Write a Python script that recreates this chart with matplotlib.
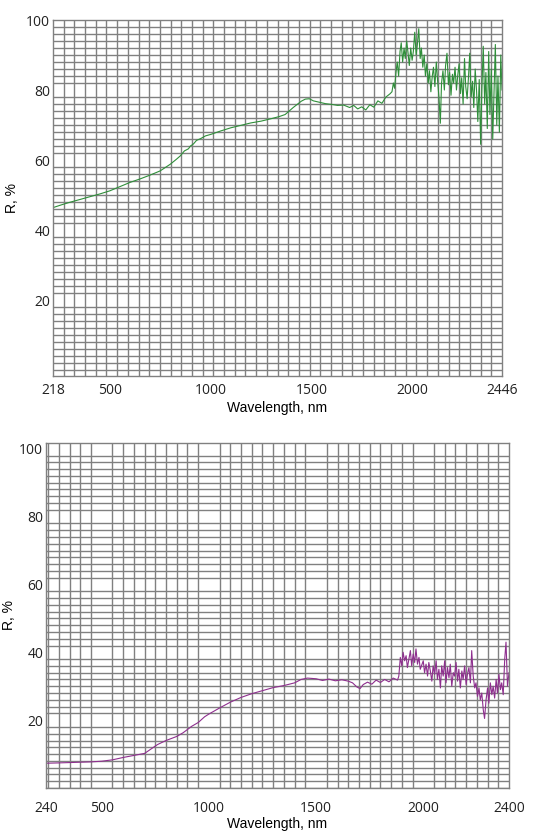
import numpy as np
import matplotlib
matplotlib.use("Agg")
import matplotlib.pyplot as plt

# ---- top panel (green) : reflectance spectrum 218-2446 nm ----
green_wl_smooth = [218, 260, 300, 350, 400, 450, 500, 550, 600, 650, 700, 750,
                   800, 830, 850, 870, 890, 900, 915, 930, 950, 975, 1000, 1050,
                   1100, 1150, 1200, 1250, 1300, 1340, 1370, 1390, 1410, 1430,
                   1450, 1470, 1490, 1510, 1540, 1570, 1600, 1630, 1660, 1690,
                   1710, 1730, 1750, 1770, 1790, 1810, 1830, 1850, 1870, 1890]
green_r_smooth = [46.4, 47.2, 47.9, 48.7, 49.5, 50.3, 51.2, 52.4, 53.6, 54.6, 55.7, 56.9,
                  58.8, 60.2, 61.2, 62.6, 63.2, 64.0, 64.6, 65.6, 66.1, 66.9, 67.3, 68.3,
                  69.2, 69.9, 70.6, 71.1, 71.8, 72.4, 73.0, 74.0, 75.0, 75.9,
                  76.8, 77.4, 77.5, 76.9, 76.5, 76.1, 75.9, 75.6, 75.7, 75.0,
                  75.6, 74.6, 75.2, 74.3, 75.8, 75.1, 76.9, 76.2, 78.0, 78.9]
green_wl_noisy = [1900, 1907, 1913, 1920, 1926, 1933, 1940, 1946, 1953, 1960, 1966, 1973,
                  1980, 1986, 1993, 2000, 2006, 2013, 2020, 2026, 2033, 2040, 2046, 2053,
                  2060, 2066, 2073, 2080, 2086, 2093, 2100, 2106, 2113, 2120, 2126, 2133,
                  2140, 2146, 2153, 2160, 2166, 2173, 2180, 2186, 2193, 2200, 2206, 2213,
                  2220, 2226, 2233, 2240, 2246, 2253, 2260, 2266, 2273, 2280, 2286, 2293,
                  2300, 2306, 2313, 2320, 2326, 2333, 2340, 2346, 2353, 2360, 2366, 2373,
                  2380, 2386, 2393, 2400, 2406, 2413, 2420, 2426, 2433, 2440, 2446]
green_r_noisy = [79.5, 82.0, 80.5, 85.0, 88.0, 84.0, 91.0, 93.5, 88.0, 92.0, 89.0, 94.0,
                 90.5, 87.0, 92.0, 88.5, 91.0, 96.5, 90.0, 93.0, 97.5, 89.0, 92.0, 86.5,
                 90.0, 84.0, 87.5, 82.0, 85.5, 79.5, 84.0, 86.5, 81.0, 88.0, 83.0, 78.0,
                 70.5, 82.0, 85.5, 80.0, 87.0, 90.5, 81.5, 85.0, 78.5, 84.5, 82.0, 86.5,
                 80.0, 84.0, 87.5, 79.0, 83.5, 76.0, 89.0, 81.0, 77.5, 84.0, 90.5, 78.0,
                 82.5, 75.0, 86.0, 79.5, 71.0, 83.0, 64.5, 80.0, 92.5, 76.0, 85.0, 69.0,
                 91.0, 73.0, 86.0, 66.0, 79.0, 93.0, 70.0, 84.0, 68.0, 90.0, 80.0]

# ---- bottom panel (purple) : reflectance spectrum 240-2400 nm ----
purple_wl_smooth = [240, 300, 350, 400, 450, 500, 550, 600, 650, 700, 730, 760,
                    800, 850, 880, 920, 950, 980, 1000, 1050, 1100, 1150, 1200, 1250,
                    1300, 1350, 1400, 1430, 1460, 1500, 1530, 1560, 1590, 1620, 1650,
                    1670, 1690, 1705, 1720, 1740, 1760, 1780, 1800, 1820, 1840, 1860, 1880]
purple_r_smooth = [7.3, 7.4, 7.5, 7.6, 7.7, 7.9, 8.3, 9.0, 9.6, 10.2, 11.5, 12.8,
                   14.0, 15.2, 16.3, 18.2, 19.3, 21.0, 21.8, 23.6, 25.3, 26.7, 27.8, 28.7,
                   29.6, 30.2, 31.0, 32.0, 32.4, 32.2, 31.7, 32.1, 31.6, 31.9, 31.5,
                   31.0, 29.8, 29.3, 30.5, 31.2, 30.6, 31.8, 31.1, 32.0, 31.3, 32.4, 31.8]
purple_wl_noisy = [1886, 1893, 1900, 1906, 1913, 1920, 1926, 1933, 1940, 1946, 1953, 1960,
                   1966, 1973, 1980, 1986, 2000, 2006, 2013, 2020, 2026, 2033, 2040, 2046,
                   2053, 2060, 2066, 2073, 2080, 2086, 2093, 2100, 2106, 2113, 2120, 2126,
                   2133, 2140, 2146, 2153, 2160, 2166, 2173, 2180, 2186, 2193, 2200, 2206,
                   2213, 2220, 2226, 2233, 2240, 2246, 2253, 2260, 2266, 2273, 2280, 2286,
                   2293, 2300, 2306, 2313, 2320, 2326, 2333, 2340, 2346, 2353, 2360, 2366,
                   2373, 2380, 2386, 2393, 2400]
purple_r_noisy = [33.0, 38.5, 36.0, 40.0, 37.5, 39.0, 35.5, 38.0, 40.5, 36.0, 39.5, 37.0,
                  41.0, 36.5, 38.5, 35.0, 37.5, 34.0, 36.5, 33.0, 37.0, 34.5, 31.5, 36.0,
                  33.5, 37.5, 32.0, 35.0, 29.5, 36.0, 33.0, 37.5, 31.0, 35.5, 32.5, 36.5,
                  30.0, 34.0, 33.0, 37.0, 31.5, 35.0, 29.5, 34.5, 32.0, 36.0, 30.5, 33.5,
                  35.5, 31.0, 40.5, 33.0, 29.5, 31.0, 27.0, 29.5, 26.0, 28.0, 23.0, 20.5,
                  26.0, 29.5, 25.0, 31.0, 27.5, 30.0, 26.5, 32.0, 28.0, 33.5, 29.0, 31.0,
                  27.5, 38.0, 43.0, 30.0, 34.0]

top_xticks = [218, 500, 1000, 1500, 2000, 2446]
bot_xticks = [240, 500, 1000, 1500, 2000, 2400]
yticks = [20, 40, 60, 80, 100]

grid_col = "#808080"
tick_font = "Open Sans"
label_font = "Liberation Sans"

fig = plt.figure(figsize=(5.42, 8.31), dpi=100)
ax1 = fig.add_axes([53/542, 1 - 376/831, (502 - 53)/542, (376 - 20)/831])
ax2 = fig.add_axes([46/542, 1 - 788/831, (509 - 46)/542, (788 - 443)/831])


def style_panel(ax, xlim, ylim, xticks, xgrid, xpad, ylab_x):
    ax.set_xlim(*xlim)
    ax.set_ylim(*ylim)
    ax.set_xticks(xticks)
    ax.set_yticks(yticks)
    ax.set_xticks(xgrid, minor=True)
    ax.set_yticks(np.arange(0, 101, 2), minor=True)
    # only the dense grid, so that no line is doubled at the labelled ticks
    ax.grid(which="minor", color=grid_col, linewidth=1.0)
    ax.set_axisbelow(True)
    ax.tick_params(which="both", length=0)
    ax.tick_params(axis="x", pad=xpad)
    ax.tick_params(axis="y", pad=2)
    for lab in ax.get_xticklabels() + ax.get_yticklabels():
        lab.set_fontfamily(tick_font)
        lab.set_fontsize(10)
        lab.set_color("#222222")
    for sp in ax.spines.values():
        sp.set_color(grid_col)
        sp.set_linewidth(1.0)
    ax.set_ylabel("R, %", fontfamily=label_font, fontsize=10)
    ax.yaxis.set_label_coords(ylab_x, 0.5)


# top
ax1.plot(green_wl_smooth + green_wl_noisy, green_r_smooth + green_r_noisy,
         color="#2f8f3a", linewidth=0.8)
style_panel(ax1, (218, 2446), (-1.7, 100), top_xticks,
            np.linspace(218, 2446, 43), 5, -0.075)
ax1.set_xlabel("Wavelength, nm", fontfamily=label_font, fontsize=10, labelpad=2)

# bottom
ax2.plot(purple_wl_smooth + purple_wl_noisy, purple_r_smooth + purple_r_noisy,
         color="#8e2f8e", linewidth=0.8)
style_panel(ax2, (240, 2400), (2, 101.7), bot_xticks,
            np.arange(250, 2400, 50), 9, -0.064)
ax2.set_xlabel("Wavelength, nm", fontfamily=label_font, fontsize=10, labelpad=1)

fig.savefig("out.png", dpi=100)
